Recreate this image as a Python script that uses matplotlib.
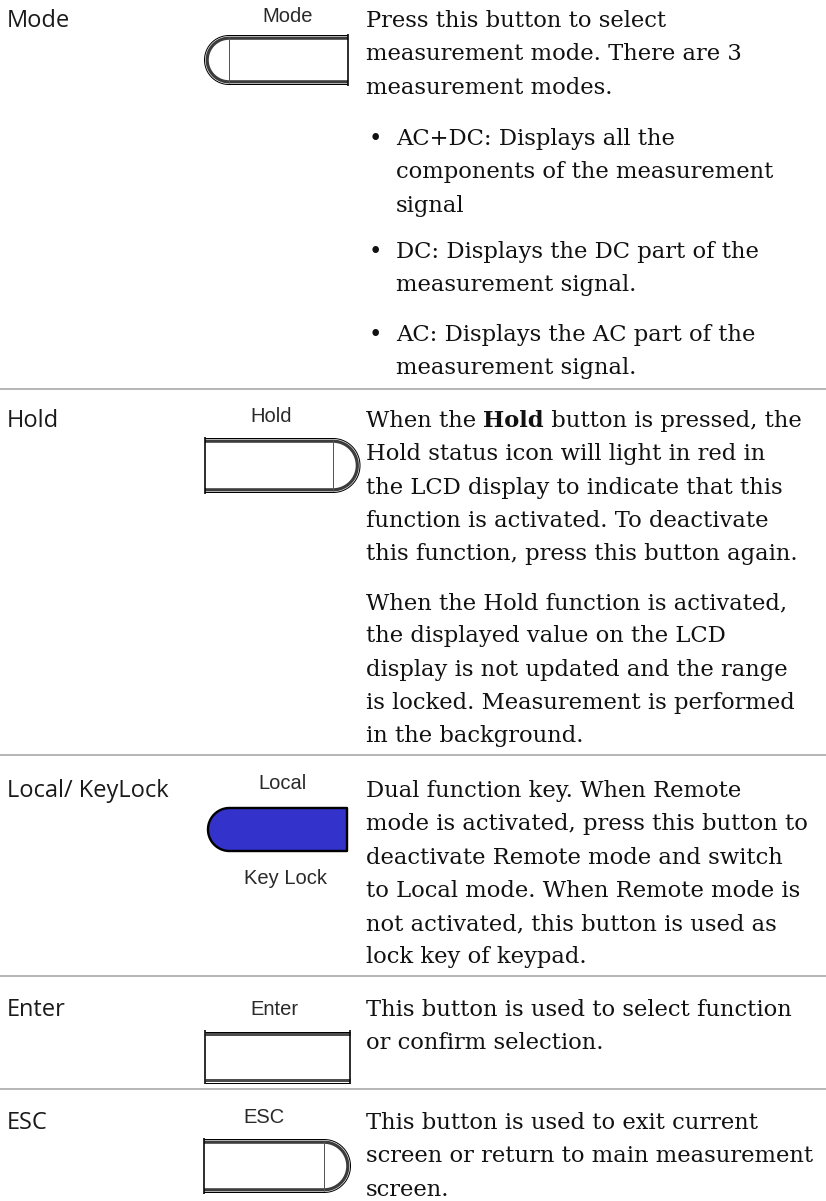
"""Front panel key reference page (Mode / Hold / Local / Enter / ESC)."""

import numpy as np
import matplotlib

matplotlib.use("Agg")
import matplotlib.pyplot as plt
from matplotlib.patches import Polygon

# ---- content -------------------------------------------------------------
row_labels = ["Mode", "Hold", "Local/ KeyLock", "Enter", "ESC"]
key_captions = ["Mode", "Hold", "Local", "Enter", "ESC"]
key_subcaption = "Key Lock"

mode_intro = [
    "Press this button to select",
    "measurement mode. There are 3",
    "measurement modes.",
]
mode_bullets = [
    ["AC+DC: Displays all the", "components of the measurement", "signal"],
    ["DC: Displays the DC part of the", "measurement signal."],
    ["AC: Displays the AC part of the", "measurement signal."],
]
hold_first_line = ["When the ", "Hold", " button is pressed, the"]
hold_para1 = [
    "Hold status icon will light in red in",
    "the LCD display to indicate that this",
    "function is activated. To deactivate",
    "this function, press this button again.",
]
hold_para2 = [
    "When the Hold function is activated,",
    "the displayed value on the LCD",
    "display is not updated and the range",
    "is locked. Measurement is performed",
    "in the background.",
]
local_text = [
    "Dual function key. When Remote",
    "mode is activated, press this button to",
    "deactivate Remote mode and switch",
    "to Local mode. When Remote mode is",
    "not activated, this button is used as",
    "lock key of keypad.",
]
enter_text = [
    "This button is used to select function",
    "or confirm selection.",
]
esc_text = [
    "This button is used to exit current",
    "screen or return to main measurement",
    "screen.",
]

# ---- layout (pixel coordinates, y grows downward) -------------------------
W, H = 826, 1201
PX = 0.72  # one pixel in points at dpi=100
LINE = 33.3
LABEL_X = 7
TEXT_X = 366
BULLET_X = 369
BULLET_TEXT_X = 396

row_baselines = [27, 427, 797, 1016, 1129]
separators_y = [389, 755, 976, 1089]
bullet_baselines = [145, 258, 341]
hold_para2_y = 609

caption_xy = [(288, 22), (271, 422), (283, 789), (274, 1015), (264, 1123)]
subcaption_xy = (286, 884)

# flat end x, join x, top, bottom, rounded side
key_shapes = [
    (348, 229, 37, 83, "left"),
    (205, 333, 440, 491, "right"),
    (347, 229.5, 808, 851, "left"),
    (205, 350, 1033, 1081, None),
    (204, 324, 1141, 1191, "right"),
]

LABEL_FONT = dict(family=["Open Sans", "DejaVu Sans"], size=17, color="#1a1a1a")
BODY_FONT = dict(family=["DejaVu Serif"], size=16.3, color="#111111")
CAP_FONT = dict(family=["Liberation Sans", "DejaVu Sans"], size=14.5, color="#2a2a2a")


def cap_outline(flat_x, join_x, y0, y1, side, grow=0.0):
    r = (y1 - y0) / 2 + grow
    yc = (y0 + y1) / 2
    t = np.linspace(-np.pi / 2, np.pi / 2, 80)
    sgn = 1 if side == "right" else -1
    xs = np.concatenate([[flat_x], join_x + sgn * r * np.cos(t), [flat_x]])
    ys = np.concatenate([[yc - r], yc + r * np.sin(t), [yc + r]])
    return xs, ys


def draw_grey_key(ax, flat_x, join_x, y0, y1, side):
    line = dict(solid_capstyle="butt", solid_joinstyle="round")
    if side is None:
        x0, x1 = flat_x, join_x
        for y, d in ((y0, 1), (y1, -1)):
            ax.plot([x0, x1], [y - 1.5 * d, y - 1.5 * d], color="black", lw=1 * PX, **line)
            ax.plot([x0, x1], [y + 1.2 * d, y + 1.2 * d], color="#4d4d4d", lw=3 * PX, **line)
        for x in (x0, x1):
            ax.plot([x, x], [y0 - 3, y1 + 3], color="black", lw=1.6 * PX, **line)
        return
    xs, ys = cap_outline(flat_x, join_x, y0, y1, side, grow=1.5)
    ax.plot(xs, ys, color="black", lw=1 * PX, **line)
    xs, ys = cap_outline(flat_x, join_x, y0, y1, side, grow=-1.2)
    ax.plot(xs, ys, color="#3d3d3d", lw=3.2 * PX, **line)
    ax.plot([join_x, join_x], [y0, y1], color="#555555", lw=1 * PX, **line)
    ax.plot([flat_x, flat_x], [y0 - 3, y1 + 3], color="black", lw=1.6 * PX, **line)


def draw_lines(ax, x, y, lines, **kw):
    for i, s in enumerate(lines):
        ax.text(x, y + i * LINE, s, ha="left", va="baseline", **BODY_FONT, **kw)


fig = plt.figure(figsize=(W / 100, H / 100), dpi=100)
ax = fig.add_axes([0, 0, 1, 1])
ax.set_xlim(0, W)
ax.set_ylim(H, 0)
ax.axis("off")

# separators between rows
ax.hlines(separators_y, 0, W, color="#a6a6a6", lw=1.6 * PX)

# row labels
for label, y in zip(row_labels, row_baselines):
    ax.text(LABEL_X, y, label, ha="left", va="baseline", **LABEL_FONT)

# keys
for i, (fx, jx, y0, y1, side) in enumerate(key_shapes):
    if key_captions[i] == "Local":
        xs, ys = cap_outline(fx, jx, y0, y1, side)
        ax.add_patch(Polygon(np.column_stack([xs, ys]), closed=True,
                             facecolor="#3333cc", edgecolor="black",
                             lw=2.4 * PX, joinstyle="round"))
    else:
        draw_grey_key(ax, fx, jx, y0, y1, side)
for cap, (cx, cy) in zip(key_captions, caption_xy):
    ax.text(cx, cy, cap, ha="center", va="baseline", **CAP_FONT)
ax.text(*subcaption_xy, key_subcaption, ha="center", va="baseline", **CAP_FONT)

# Mode description
draw_lines(ax, TEXT_X, row_baselines[0], mode_intro)
for y, bullet in zip(bullet_baselines, mode_bullets):
    ax.text(BULLET_X, y, "\u2022", ha="left", va="baseline", **BODY_FONT)
    draw_lines(ax, BULLET_TEXT_X, y, bullet)

# Hold description, with the bold key name inline
t0 = ax.text(TEXT_X, row_baselines[1], hold_first_line[0], ha="left",
             va="baseline", **BODY_FONT)
t1 = ax.annotate(hold_first_line[1], xy=(1, 0), xycoords=t0, ha="left",
                 va="bottom", fontweight="bold", **BODY_FONT)
ax.annotate(hold_first_line[2], xy=(1, 0), xycoords=t1, ha="left",
            va="bottom", **BODY_FONT)
draw_lines(ax, TEXT_X, row_baselines[1] + LINE, hold_para1)
draw_lines(ax, TEXT_X, hold_para2_y, hold_para2)

draw_lines(ax, TEXT_X, row_baselines[2], local_text)
draw_lines(ax, TEXT_X, row_baselines[3], enter_text)
draw_lines(ax, TEXT_X, row_baselines[4], esc_text)

fig.savefig("out.png", dpi=100)
plt.close(fig)
